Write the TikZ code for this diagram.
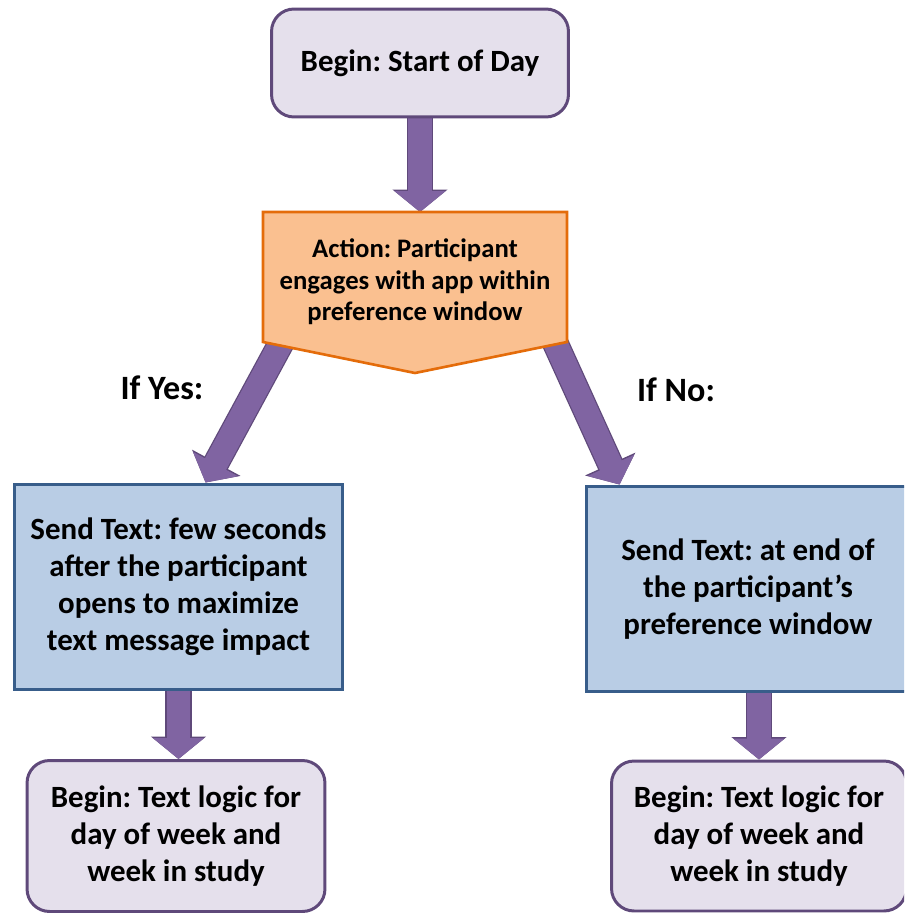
\documentclass[tikz,border=0pt]{standalone}
\usepackage{fontspec}
\setmainfont{Carlito}
\frenchspacing
\usetikzlibrary{arrows.meta,calc}
\definecolor{lilac}{HTML}{E5E0EC}
\definecolor{lilacedge}{HTML}{5F497A}
\definecolor{skyfill}{HTML}{B9CDE5}
\definecolor{skyedge}{HTML}{385D8A}
\definecolor{peach}{HTML}{FAC090}
\definecolor{peachedge}{HTML}{E46C0A}
\definecolor{arrowfill}{HTML}{8064A2}
\pgfdeclarelayer{arrowlayer}
\pgfdeclarelayer{shapelayer}
\pgfsetlayers{arrowlayer,shapelayer,main}
\tikzset{beginbox/.style={rectangle,rounded corners=0.45cm,draw=lilacedge,fill=lilac,line width=1.7pt,align=center,font=\fontsize{17.6}{21}\selectfont\bfseries}}
\tikzset{sendbox/.style={rectangle,draw=skyedge,fill=skyfill,line width=1.7pt,align=center,font=\fontsize{17.6}{21}\selectfont\bfseries}}
\tikzset{actbox/.style={rectangle,inner sep=0pt,outer sep=0pt,align=center,font=\fontsize{15.2}{18}\selectfont\bfseries}}
\tikzset{ifnode/.style={font=\fontsize{19.4}{23}\selectfont\bfseries}}

\begin{document}
\begin{tikzpicture}[x=0.02cm,y=-0.02cm]
          \useasboundingbox (0,0) rectangle (904,913);
          \clip (0,0) rectangle (904,913);

          % Start of day
          \node [beginbox,minimum width=5.94cm,minimum height=2.16cm] (B0) at (420,63) {Begin: Start of Day};

          % Action
          \node [actbox] (A0) at (415,282) {Action: Participant\\engages with app within\\preference window};
          \coordinate (A0nw) at ($(A0)+(-152,-70)$);
          \coordinate (A0ne) at ($(A0)+(152,-70)$);
          \coordinate (A0se) at ($(A0)+(152,60)$);
          \coordinate (A0sw) at ($(A0)+(-152,60)$);
          \coordinate (A0tip) at ($(A0)+(0,91)$);
          \begin{pgfonlayer}{shapelayer}
              \draw [draw=peachedge,fill=peach,line width=1.5pt]
                  (A0nw) -- (A0ne) -- (A0se) -- (A0tip) -- (A0sw) -- cycle;
          \end{pgfonlayer}

          % Branches
          \node [ifnode] (yes) at (162,388) {If Yes:};
          \node [ifnode] (no) at (676,390) {If No:};

          % Send text
          \node [sendbox,minimum width=6.58cm,minimum height=4.12cm] (S1) at (178.5,587) {Send Text: few seconds\\after the participant\\opens to maximize\\text message impact};
          \node [sendbox,minimum width=6.48cm,minimum height=4.12cm] (S2) at (748,589) {Send Text: at end of\\the participant’s\\preference window};

          % Text logic
          \node [beginbox,minimum width=5.96cm,minimum height=3.02cm] (L1) at (176,836) {Begin: Text logic for\\day of week and\\week in study};
          \node [beginbox,minimum width=5.9cm,minimum height=3.0cm] (L2) at (759,836) {Begin: Text logic for\\day of week and\\week in study};

          % Arrows
          \begin{pgfonlayer}{arrowlayer}
          \begin{scope}[every edge/.style={draw=arrowfill,line width=0.48cm,
                          -{Triangle[length=0.42cm,width=1.0cm]},
                          preaction={draw=lilacedge,line width=0.53cm,-{Triangle[length=0.45cm,width=1.08cm]}}}]
              \path (B0.south) edge (B0.south |- A0nw);
              \path ($(A0sw)+(23,-8)$) edge ($(S1.north west)+(193,0)$);
              \path ($(A0se)+(-19,-15)$) edge ($(S2.north west)+(35,0)$);
              \path (S1.south) edge (S1.south |- L1.north);
              \path (L2.north |- S2.south) edge (L2.north);
          \end{scope}
          \end{pgfonlayer}
\end{tikzpicture}
\end{document}
